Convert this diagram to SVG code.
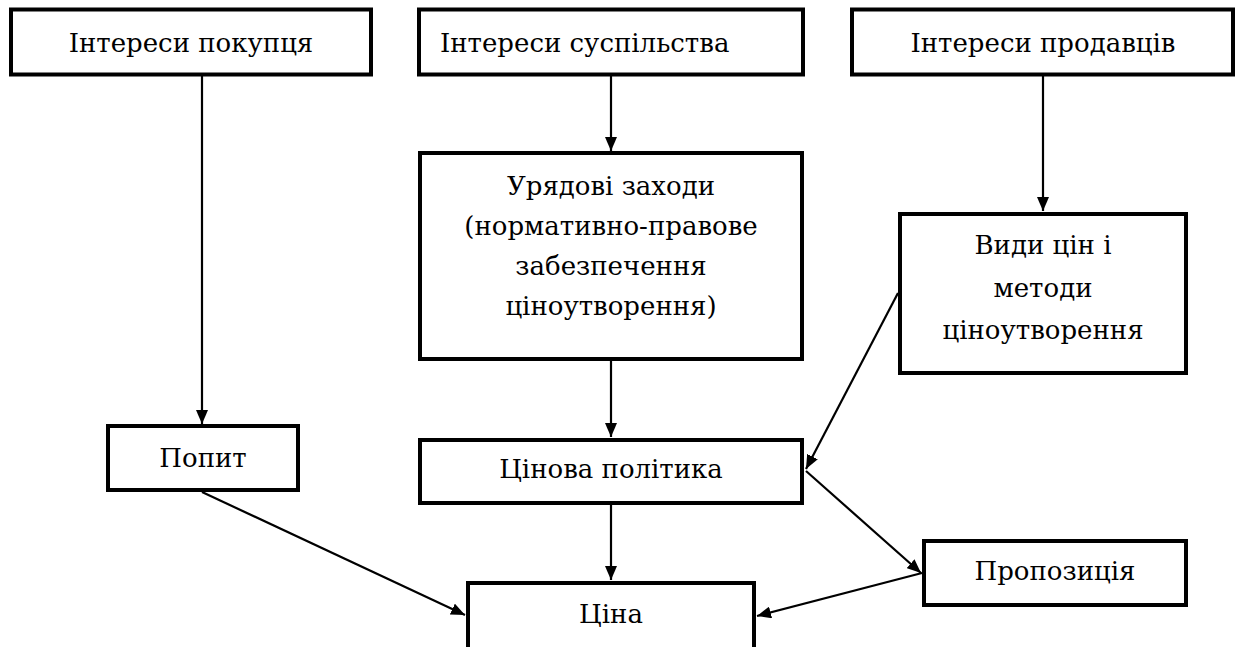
<svg xmlns="http://www.w3.org/2000/svg" width="1236" height="647" viewBox="0 0 1236 647">
<defs>
<marker id="arr" viewBox="0 0 14 12" refX="14" refY="6" markerWidth="14" markerHeight="12" markerUnits="userSpaceOnUse" orient="auto">
<path d="M0,0 L14,6 L0,12 Z" fill="#000"/>
</marker>
<style>
.box{fill:#fff;stroke:#000;stroke-width:4}
text{font-family:'DejaVu Serif',serif;font-size:26px;fill:#000;text-anchor:middle}
.c{stroke:#000;stroke-width:2.2;fill:none;marker-end:url(#arr)}
</style>
</defs>
<rect width="1236" height="647" fill="#fff"/>
<g id="connectors">
<line class="c" x1="202" y1="76" x2="202" y2="424"/>
<line class="c" x1="611" y1="76" x2="611" y2="151"/>
<line class="c" x1="1043" y1="76" x2="1043" y2="211"/>
<line class="c" x1="611" y1="361" x2="611" y2="437"/>
<line class="c" x1="611" y1="505" x2="611" y2="580"/>
<line class="c" x1="898" y1="293" x2="806" y2="469"/>
<line class="c" x1="806" y1="471" x2="921" y2="573"/>
<line class="c" x1="922" y1="573" x2="757" y2="616"/>
<line class="c" x1="202" y1="492" x2="465" y2="615"/>
</g>
<g id="n1"><rect class="box" x="11" y="9.5" width="360" height="65"/><text x="191" y="52">Інтереси покупця</text></g>
<g id="n2"><rect class="box" x="419" y="9.5" width="384" height="65"/><text x="440" y="52" style="text-anchor:start">Інтереси суспільства</text></g>
<g id="n3"><rect class="box" x="852" y="9.5" width="381" height="65"/><text x="1043" y="52">Інтереси продавців</text></g>
<g id="n4"><rect class="box" x="420" y="153" width="382" height="206"/>
<text x="611" y="195">Урядові заходи</text>
<text x="611" y="235">(нормативно-правове</text>
<text x="611" y="275">забезпечення</text>
<text x="611" y="315">ціноутворення)</text></g>
<g id="n5"><rect class="box" x="900" y="214" width="286" height="159"/>
<text x="1043" y="254">Види цін і</text>
<text x="1043" y="297">методи</text>
<text x="1043" y="339">ціноутворення</text></g>
<g id="n6"><rect class="box" x="108" y="426" width="190" height="64"/><text x="203" y="467">Попит</text></g>
<g id="n7"><rect class="box" x="420" y="440" width="382" height="63"/><text x="611" y="478">Цінова політика</text></g>
<g id="n8"><rect class="box" x="924" y="541" width="262" height="64"/><text x="1055" y="580">Пропозиція</text></g>
<g id="n9"><rect class="box" x="468" y="583" width="286" height="70"/><text x="611" y="623">Ціна</text></g>
</svg>
